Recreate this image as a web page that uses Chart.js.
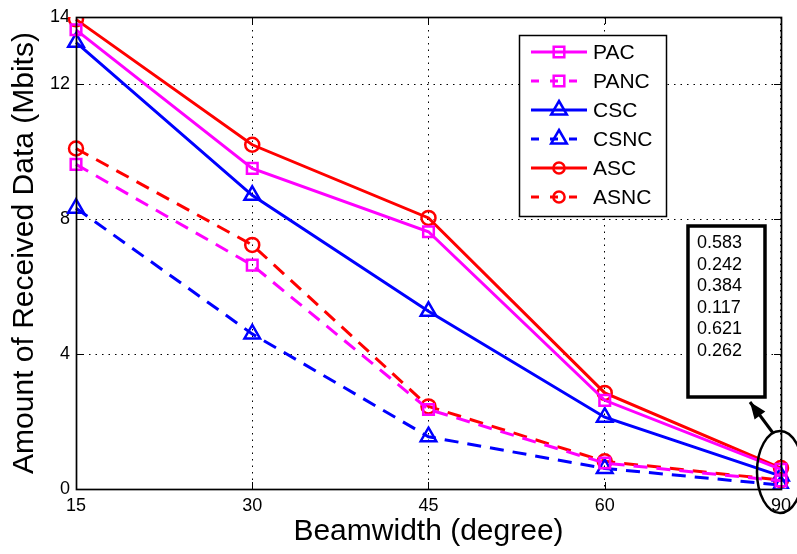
<!DOCTYPE html>
<html>
<head>
<meta charset="utf-8">
<script src="https://cdn.jsdelivr.net/npm/chart.js@4.4.1/dist/chart.umd.min.js"></script>
<style>
  html, body { margin: 0; padding: 0; background: #fff; }
  #wrap { width: 797px; height: 554px; }
</style>
</head>
<body>
<div id="wrap"><canvas id="chart" width="797" height="554"></canvas></div>
<script>
// --- дані ---
const beamwidths = ['15', '30', '45', '60', '90'];
const pacData  = [13.62, 9.51, 7.63, 2.63, 0.583];
const pancData = [9.63, 6.64, 2.36, 0.77, 0.242];
const cscData  = [13.25, 8.71, 5.27, 2.13, 0.384];
const csncData = [8.33, 4.60, 1.55, 0.61, 0.117];
const ascData  = [13.93, 10.21, 8.04, 2.85, 0.621];
const asncData = [10.10, 7.24, 2.45, 0.82, 0.262];
const yTicks = [0, 4, 8, 12, 14];

const FONT = '"Liberation Sans", Arial, Helvetica, sans-serif';

function series(label, data, color, marker, dashed) {
    return {
        label: label,
        data: data,
        borderColor: color,
        backgroundColor: color,
        borderWidth: 3,
        borderDash: dashed ? [14, 9] : [],
        pointStyle: marker,
        pointRadius: marker === 'rect' ? 7.5 : (marker === 'triangle' ? 9 : 7),
        pointBorderWidth: 2.5,
        pointBorderColor: color,
        pointBackgroundColor: 'rgba(0,0,0,0)',
        tension: 0
    };
}

const datasets = [
    series('PAC', pacData, '#ff00ff', 'rect', false),
    series('PANC', pancData, '#ff00ff', 'rect', true),
    series('CSC', cscData, '#0000ff', 'triangle', false),
    series('CSNC', csncData, '#0000ff', 'triangle', true),
    series('ASC', ascData, '#ff0000', 'circle', false),
    series('ASNC', asncData, '#ff0000', 'circle', true)
];

// маркер для легенди
function drawMarker(ctx, style, x, y, r) {
    ctx.beginPath();
    if (style === 'rect') {
        const s = r * Math.SQRT1_2;
        ctx.rect(x - s, y - s, 2 * s, 2 * s);
    } else if (style === 'triangle') {
        ctx.moveTo(x, y - r);
        ctx.lineTo(x + r * 0.87, y + r * 0.5);
        ctx.lineTo(x - r * 0.87, y + r * 0.5);
        ctx.closePath();
    } else {
        ctx.arc(x, y, r * 0.8, 0, Math.PI * 2);
    }
    ctx.stroke();
}

// рамка осей у стилі MATLAB + легенда + примітка
const matlabPlugin = {
    id: 'matlab',
    afterDatasetsDraw(chart) {
        const ctx = chart.ctx;
        const a = chart.chartArea;
        const xs = chart.scales.x, ys = chart.scales.y;
        ctx.save();

        // рамка
        ctx.strokeStyle = '#000';
        ctx.lineWidth = 1.7;
        ctx.setLineDash([]);
        ctx.strokeRect(a.left + 0.5, a.top + 0.5, a.right - a.left, a.bottom - a.top);

        // внутрішні риски
        ctx.lineWidth = 1;
        ctx.beginPath();
        yTicks.forEach(v => {
            const py = Math.round(ys.getPixelForValue(v)) + 0.5;
            ctx.moveTo(a.left, py); ctx.lineTo(a.left + 7, py);
            ctx.moveTo(a.right, py); ctx.lineTo(a.right - 7, py);
        });
        beamwidths.forEach((b, i) => {
            const px = Math.round(xs.getPixelForValue(i)) + 0.5;
            ctx.moveTo(px, a.bottom); ctx.lineTo(px, a.bottom - 7);
            ctx.moveTo(px, a.top); ctx.lineTo(px, a.top + 7);
        });
        ctx.stroke();

        // легенда
        const lx = 519, ly = 35, lw = 147, lh = 181;
        ctx.fillStyle = '#fff';
        ctx.fillRect(lx, ly, lw, lh);
        ctx.strokeStyle = '#000';
        ctx.lineWidth = 1.5;
        ctx.strokeRect(lx + 0.5, ly + 0.5, lw, lh);
        chart.data.datasets.forEach((ds, i) => {
            const yy = ly + 17 + i * 29;
            ctx.strokeStyle = ds.borderColor;
            ctx.lineWidth = 3;
            ctx.setLineDash(ds.borderDash.length ? [8, 11] : []);
            ctx.beginPath();
            ctx.moveTo(lx + 12, yy);
            ctx.lineTo(lx + 68, yy);
            ctx.stroke();
            ctx.setLineDash([]);
            ctx.lineWidth = 2.5;
            drawMarker(ctx, ds.pointStyle, lx + 40, yy, ds.pointRadius);
            ctx.fillStyle = '#000';
            ctx.font = '21px ' + FONT;
            ctx.textBaseline = 'middle';
            ctx.textAlign = 'left';
            ctx.fillText(ds.label, lx + 74, yy + 1);
        });

        // примітка зі значеннями при 90
        const last = beamwidths.length - 1;
        const cx = xs.getPixelForValue(last);
        const bx = a.right - 93, by = 226, bw = 77, bh = 171;
        ctx.fillStyle = '#fff';
        ctx.fillRect(bx, by, bw, bh);
        ctx.strokeStyle = '#000';
        ctx.lineWidth = 3.5;
        ctx.strokeRect(bx, by, bw, bh);
        ctx.fillStyle = '#000';
        ctx.font = '18px ' + FONT;
        ctx.textBaseline = 'middle';
        chart.data.datasets.forEach((ds, i) => {
            ctx.fillText(ds.data[last].toFixed(3), bx + 9, by + 17 + i * 21.6);
        });

        // еліпс навколо точок 90
        ctx.lineWidth = 2.5;
        ctx.beginPath();
        ctx.ellipse(cx - 1, 472, 23, 41, 0, 0, Math.PI * 2);
        ctx.stroke();

        // стрілка
        const x1 = cx - 8, y1 = 433, x2 = bx + 62, y2 = by + bh + 5;
        ctx.lineWidth = 3;
        ctx.beginPath();
        ctx.moveTo(x1, y1);
        ctx.lineTo(x2, y2);
        ctx.stroke();
        const ang = Math.atan2(y2 - y1, x2 - x1);
        ctx.beginPath();
        ctx.moveTo(x2, y2);
        ctx.lineTo(x2 - 18 * Math.cos(ang - 0.38), y2 - 18 * Math.sin(ang - 0.38));
        ctx.lineTo(x2 - 18 * Math.cos(ang + 0.38), y2 - 18 * Math.sin(ang + 0.38));
        ctx.closePath();
        ctx.fill();

        ctx.restore();
    }
};

new Chart(document.getElementById('chart'), {
    type: 'line',
    data: { labels: beamwidths, datasets: datasets },
    plugins: [matlabPlugin],
    options: {
        responsive: false,
        animation: false,
        layout: { padding: { top: 17, right: 14, left: 0, bottom: 0 } },
        plugins: { legend: { display: false }, tooltip: { enabled: false } },
        scales: {
            x: {
                type: 'category',
                offset: false,
                grid: { offset: false, color: '#000', lineWidth: 1, drawTicks: false },
                border: { display: false, dash: [1.5, 5] },
                ticks: { color: '#000', font: { family: FONT, size: 18 }, padding: 6, maxRotation: 0, autoSkip: false },
                title: { display: true, text: 'Beamwidth (degree)', color: '#000', font: { family: FONT, size: 30 }, padding: { top: 0, bottom: 4 } },
                afterFit(scale) { scale.height = 65; }
            },
            y: {
                min: 0,
                max: 14,
                afterBuildTicks(scale) { scale.ticks = yTicks.map(v => ({ value: v })); },
                grid: { color: '#000', lineWidth: 1, drawTicks: false },
                border: { display: false, dash: [1.5, 5] },
                ticks: { color: '#000', font: { family: FONT, size: 18 }, padding: 6 },
                title: { display: true, text: 'Amount of Received Data (Mbits)', color: '#000', font: { family: FONT, size: 30 }, padding: { top: 7, bottom: 0 } },
                afterFit(scale) { scale.width = 76; }
            }
        }
    }
});
</script>
</body>
</html>
